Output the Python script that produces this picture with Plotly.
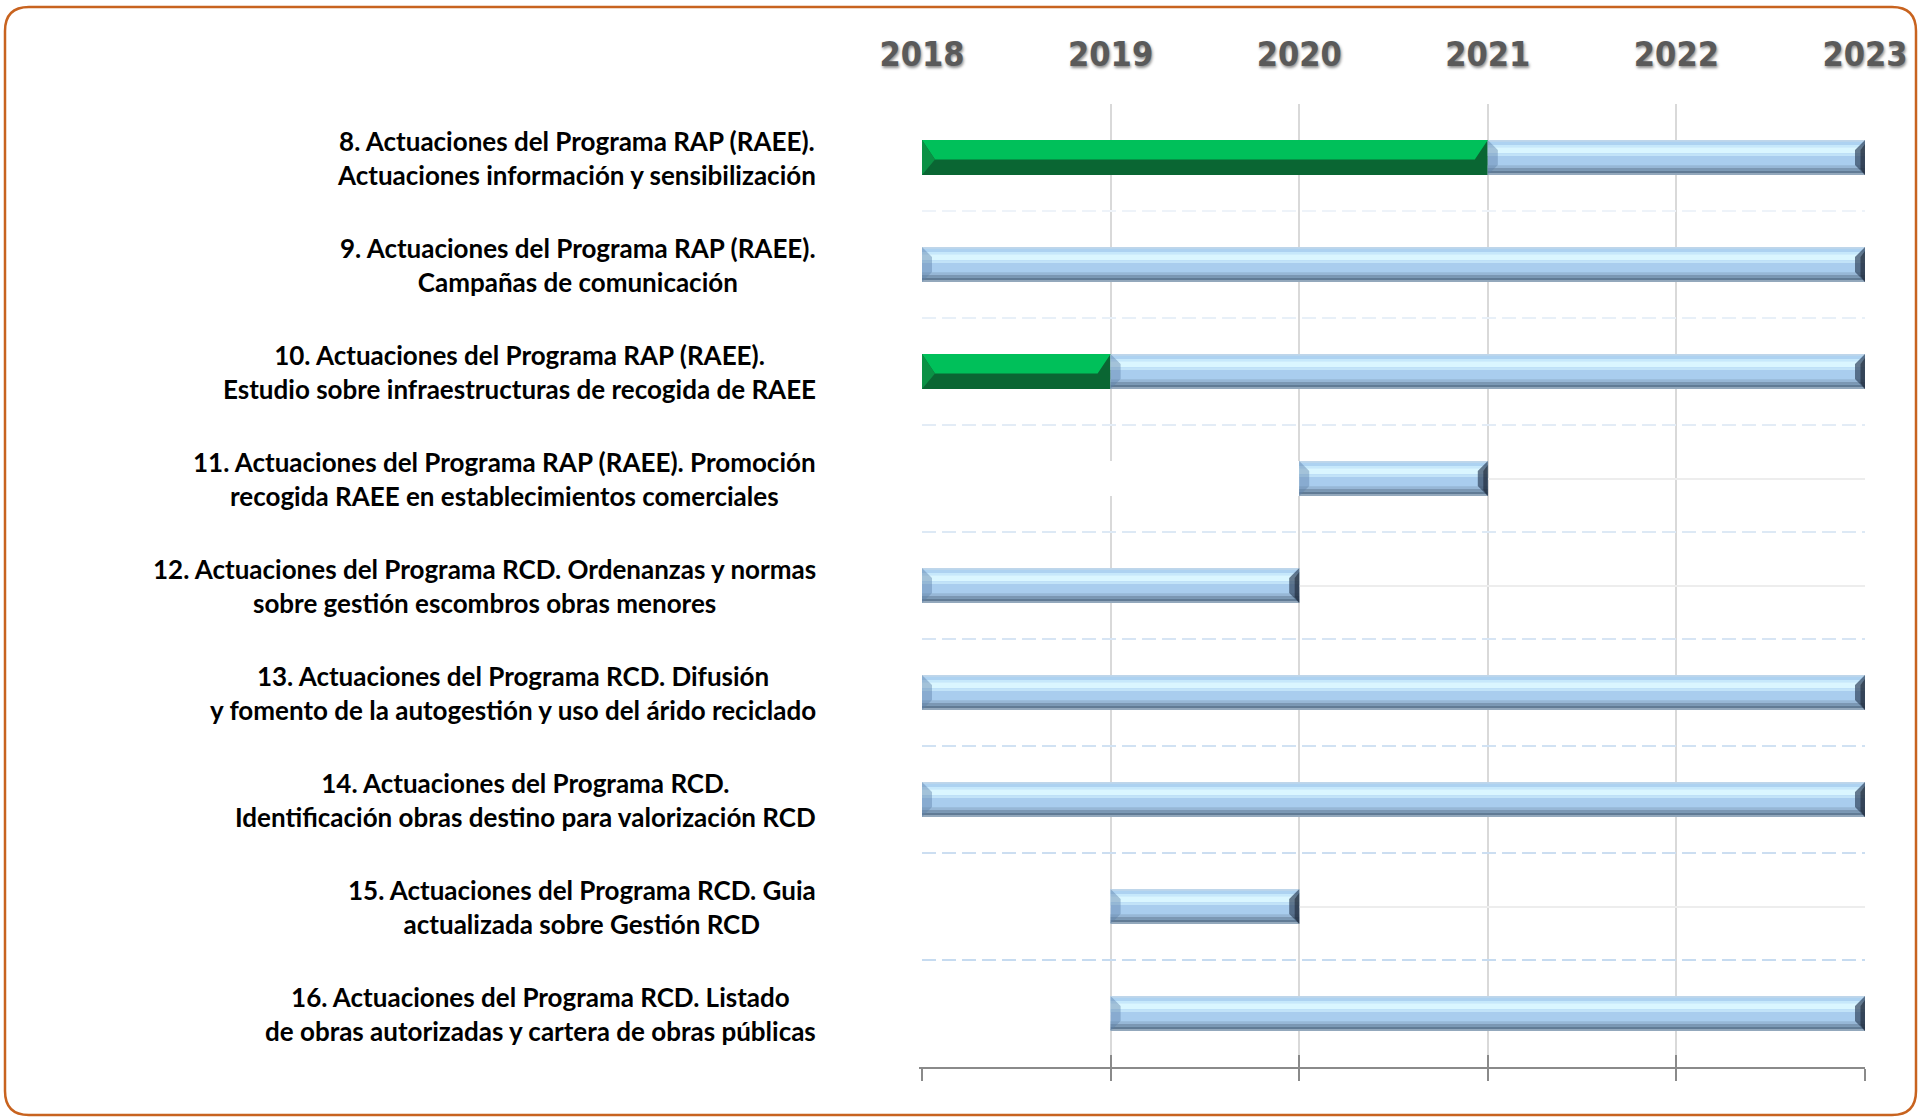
import plotly.graph_objects as go

# ---------------- data ----------------
labels = [
    "8. Actuaciones del Programa RAP (RAEE).<br>Actuaciones información y sensibilización",
    "9. Actuaciones del Programa RAP (RAEE).<br>Campañas de comunicación",
    "10. Actuaciones del Programa RAP (RAEE).<br>Estudio sobre infraestructuras de recogida de RAEE",
    "11. Actuaciones del Programa RAP (RAEE). Promoción<br>recogida RAEE en establecimientos comerciales",
    "12. Actuaciones del Programa RCD. Ordenanzas y normas<br>sobre gestión escombros obras menores",
    "13. Actuaciones del Programa RCD. Difusión<br>y fomento de la autogestión y uso del árido reciclado",
    "14. Actuaciones del Programa RCD.<br>Identificación obras destino para valorización RCD",
    "15. Actuaciones del Programa RCD. Guia<br>actualizada sobre Gestión RCD",
    "16. Actuaciones del Programa RCD. Listado<br>de obras autorizadas y cartera de obras públicas",
]
years = [2018, 2019, 2020, 2021, 2022, 2023]
year_labels = ["2018", "2019", "2020", "2021", "2022", "2023"]

green_start = [2018, None, 2018, None, None, None, None, None, None]
green_end = [2021, None, 2019, None, None, None, None, None, None]
blue_start = [2021, 2018, 2019, 2020, 2018, 2018, 2018, 2019, 2019]
blue_end = [2023, 2023, 2023, 2021, 2020, 2023, 2023, 2020, 2023]

# ---------------- geometry / style ----------------
W, H = 1924, 1119
L, R, T, B = 922, 1865, 104, 1067
BW = 0.327                     # bar thickness in row units
px_x = (R - L) / (years[-1] - years[0])
px_y = (B - T) / len(labels)
bev_x = 10 / px_x
bev_y = 10 / px_y
gbev_x = 13 / px_x

LABEL_FONT = "Lato, Noto Sans, sans-serif"
YEAR_FONT = "DejaVu Sans Condensed, Roboto, sans-serif"

rows = list(range(len(labels)))
fig = go.Figure()

# white offset bars (hide grid where a task has not started)
off_rows, off_len = [], []
for i in rows:
    starts = [s for s in (green_start[i], blue_start[i]) if s is not None]
    st = min(starts)
    if st > years[0]:
        off_rows.append(i)
        off_len.append(st - years[0])
fig.add_trace(go.Bar(orientation="h", y=off_rows, x=off_len, base=[years[0]] * len(off_rows),
                     width=BW, marker=dict(color="white", line=dict(width=0)), hoverinfo="skip"))

# green bars
g_rows = [i for i in rows if green_start[i] is not None]
g_base = [green_start[i] for i in g_rows]
g_dur = [green_end[i] - green_start[i] for i in g_rows]
fig.add_trace(go.Bar(orientation="h", y=g_rows, x=g_dur, base=g_base, width=BW,
                     marker=dict(color="#0a6633", line=dict(width=0)), hoverinfo="skip"))


def poly_trace(polys, color):
    xs, ys = [], []
    for p in polys:
        for (a, b) in p:
            xs.append(a)
            ys.append(b)
        xs.append(p[0][0])
        ys.append(p[0][1])
        xs.append(None)
        ys.append(None)
    return go.Scatter(x=xs, y=ys, fill="toself", fillcolor=color, mode="lines",
                      line=dict(width=0), hoverinfo="skip")


g_light, g_left = [], []
for i in g_rows:
    x0, x1 = green_start[i], green_end[i]
    top, bot = i - BW / 2, i + BW / 2
    mid = top + 0.56 * BW
    g_light.append([(x0, top), (x1, top), (x1 - gbev_x, mid), (x0 + gbev_x, mid)])
    g_left.append([(x0, top), (x0 + gbev_x, mid), (x0, bot)])

# blue bars
b_dur = [blue_end[i] - blue_start[i] for i in rows]
fig.add_trace(go.Bar(orientation="h", y=rows, x=b_dur, base=blue_start, width=BW,
                     marker=dict(color="#a9cdee", line=dict(width=0)), hoverinfo="skip"))
blue_stripes = [
    (0.00, 0.05, "#bfd6ea"),
    (0.05, 0.14, "#add2f1"),
    (0.14, 0.21, "#c6e8fb"),
    (0.21, 0.38, "#daf6ff"),
    (0.38, 0.46, "#c2e3f8"),
    (0.72, 0.80, "#97b7d6"),
    (0.80, 0.88, "#7b97b3"),
    (0.88, 0.97, "#617b95"),
    (0.97, 1.00, "#93a8bc"),
]
for f0, f1, c in blue_stripes:
    fig.add_trace(go.Bar(orientation="h", y=rows, x=b_dur, base=blue_start,
                         width=(f1 - f0) * BW, offset=-BW / 2 + f0 * BW,
                         marker=dict(color=c, line=dict(width=0)), hoverinfo="skip"))

fig.add_trace(poly_trace(g_light, "#00c05a"))
fig.add_trace(poly_trace(g_left, "#0b9145"))

b_left, b_right, b_right2 = [], [], []
for i in rows:
    x0, x1 = blue_start[i], blue_end[i]
    top, bot = i - BW / 2, i + BW / 2
    b_left.append([(x0, top), (x0 + bev_x, top + bev_y), (x0 + bev_x, bot - bev_y), (x0, bot)])
    b_right.append([(x1, top), (x1 - bev_x, top + bev_y), (x1 - bev_x, bot - bev_y), (x1, bot)])
    b_right2.append([(x1, top + bev_y * 0.4), (x1 - bev_x * 0.45, top + bev_y),
                     (x1 - bev_x * 0.45, bot - bev_y * 0.6), (x1, bot)])
fig.add_trace(poly_trace(b_left, "rgba(95,130,170,0.45)"))
fig.add_trace(poly_trace(b_right, "rgba(50,70,95,0.70)"))
fig.add_trace(poly_trace(b_right2, "rgba(25,35,50,0.55)"))

# dummy traces so the overlay axes are drawn
fig.add_trace(go.Scatter(x=[years[0]], y=[0], xaxis="x2", mode="markers",
                         marker=dict(opacity=0), hoverinfo="skip"))
fig.add_trace(go.Scatter(x=[years[0]], y=[0], xaxis="x3", mode="markers",
                         marker=dict(opacity=0), hoverinfo="skip"))

# category labels
for i, lab in enumerate(labels):
    l1, l2 = lab.split("<br>")
    fig.add_annotation(x=0, xref="paper", y=i, yref="y", text="<b>%s</b><br><b>%s</b>" % (l1, l2),
                       showarrow=False, xanchor="right", yanchor="middle", align="center",
                       xshift=-104, font=dict(family=LABEL_FONT, size=26, color="#000000"))

# dashed row separators
def lerp_col(c0, c1, t):
    a = [int(c0[k:k + 2], 16) for k in (1, 3, 5)]
    b = [int(c1[k:k + 2], 16) for k in (1, 3, 5)]
    return "rgb(%d,%d,%d)" % tuple(round(a[k] + (b[k] - a[k]) * t) for k in range(3))

n_sep = len(labels) - 1
for k in range(n_sep):
    fig.add_shape(type="line", xref="x", yref="y", x0=years[0], x1=years[-1],
                  y0=k + 0.5, y1=k + 0.5, layer="between",
                  line=dict(color=lerp_col("#eef3f9", "#c6dbf0", k / (n_sep - 1)),
                            width=2, dash="14px,6px"))

# rounded orange border
def P(px, py):
    return (px - L) / (R - L), (B - py) / (B - T)

bx0, by0, bx1, by1, rr = 5, 7, 1916, 1115, 24
pts = [
    ("M", [(bx0 + rr, by0)]),
    ("L", [(bx1 - rr, by0)]),
    ("Q", [(bx1, by0), (bx1, by0 + rr)]),
    ("L", [(bx1, by1 - rr)]),
    ("Q", [(bx1, by1), (bx1 - rr, by1)]),
    ("L", [(bx0 + rr, by1)]),
    ("Q", [(bx0, by1), (bx0, by1 - rr)]),
    ("L", [(bx0, by0 + rr)]),
    ("Q", [(bx0, by0), (bx0 + rr, by0)]),
]
path = ""
for cmd, cs in pts:
    path += cmd + " ".join("%.6f,%.6f" % P(a, b) for a, b in cs) + " "
path += "Z"
fig.add_shape(type="path", xref="paper", yref="paper", path=path,
              line=dict(color="#c8631f", width=2.5), fillcolor="rgba(0,0,0,0)", layer="above")

axis_col = "#8a8a8a"
fig.update_layout(
    width=W, height=H,
    margin=dict(l=L, r=W - R, t=T, b=H - B, pad=0),
    paper_bgcolor="white", plot_bgcolor="white",
    barmode="overlay", showlegend=False,
    xaxis=dict(range=[years[0], years[-1]], tickvals=years, showticklabels=False,
               showgrid=True, gridcolor="#d9d9d9", gridwidth=1.5, zeroline=False,
               showline=True, linecolor=axis_col, linewidth=2,
               ticks="outside", ticklen=12, tickwidth=2, tickcolor=axis_col),
    xaxis2=dict(range=[years[0], years[-1]], overlaying="x", side="top", anchor="y",
                tickvals=years, ticktext=year_labels, showgrid=False, zeroline=False,
                showline=False, ticks="", ticklabelstandoff=30,
                tickfont=dict(family=YEAR_FONT, size=34, color="#5a5a5a", weight="bold",
                              shadow="1px 2px 3px rgba(0,0,0,0.45)")),
    xaxis3=dict(range=[years[0], years[-1]], overlaying="x", side="bottom", anchor="y",
                tickvals=years, showticklabels=False, showgrid=False, zeroline=False,
                showline=False, ticks="inside", ticklen=12, tickwidth=2, tickcolor=axis_col),
    yaxis=dict(range=[len(labels) - 0.5, -0.5], tickvals=rows, showticklabels=False,
               showgrid=True, gridcolor="#ededed", gridwidth=2, zeroline=False,
               showline=True, linecolor="white", linewidth=3, layer="below traces", ticks=""),
)

fig.write_html("out.html", config={"displayModeBar": False},
               post_script="document.body.style.margin='0';document.body.style.overflow='hidden';")
